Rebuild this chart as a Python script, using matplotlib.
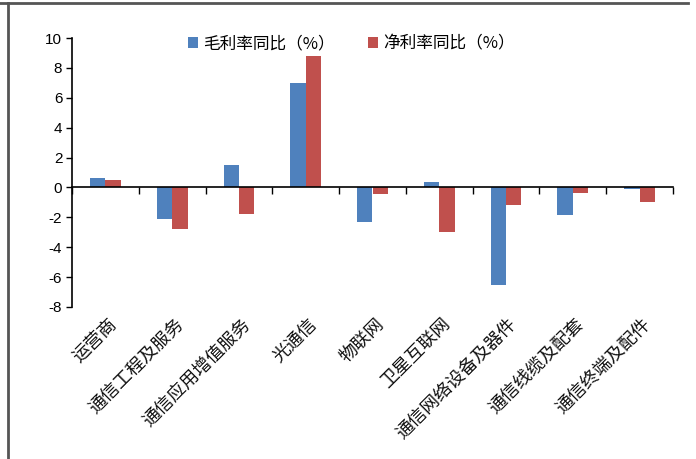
import matplotlib
matplotlib.use("Agg")
import matplotlib.pyplot as plt
import matplotlib.transforms as mtransforms
import numpy as np

plt.rcParams['font.family'] = ['Noto Sans CJK SC', 'DejaVu Sans']

# data
categories = ["运营商", "通信工程及服务", "通信应用增值服务", "光通信", "物联网",
              "卫星互联网", "通信网络设备及器件", "通信线缆及配套", "通信终端及配件"]
gross_margin_yoy = [0.6, -2.1, 1.5, 7.0, -2.3, 0.35, -6.5, -1.85, -0.1]
net_margin_yoy = [0.5, -2.8, -1.8, 8.8, -0.45, -3.0, -1.2, -0.4, -1.0]
series_names = ["毛利率同比（%）", "净利率同比（%）"]
yticks = [-8, -6, -4, -2, 0, 2, 4, 6, 8, 10]

fig = plt.figure(figsize=(6.96, 4.59), dpi=100)
ax = fig.add_axes([72 / 696, 1 - 307 / 459, 601 / 696, 269 / 459])

x = np.arange(len(categories))
w = 0.23
ax.bar(x - w / 2, gross_margin_yoy, w, color="#4F81BD", label=series_names[0])
ax.bar(x + w / 2, net_margin_yoy, w, color="#C0504D", label=series_names[1])

ax.set_xlim(-0.5, len(categories) - 0.5)
ax.set_ylim(-8, 10)
ax.set_yticks(yticks)
ax.set_yticklabels([str(v) for v in yticks], family="Liberation Sans", fontsize=11)
ax.tick_params(axis="y", direction="out", length=4, width=1, pad=3)

# x axis drawn on the zero line, ticks between categories
for s in ["top", "right"]:
    ax.spines[s].set_visible(False)
ax.spines["bottom"].set_position(("data", 0))
ax.spines["left"].set_linewidth(1.2)
ax.spines["bottom"].set_linewidth(1.2)
ax.set_xticks(np.arange(len(categories) + 1) - 0.5)
ax.set_xticklabels([])
ax.tick_params(axis="x", direction="out", length=5, width=1)

# category labels under the plot area
trans = mtransforms.blended_transform_factory(ax.transData, ax.transAxes)
for i, name in enumerate(categories):
    ax.text(i + 0.03, -0.03, name, transform=trans, rotation=45,
            rotation_mode="anchor", ha="right", va="top", fontsize=13,
            color="#111111")

fig.legend(loc="center", bbox_to_anchor=(0.505, 1 - 44 / 459), ncol=2,
           frameon=False, fontsize=12, handlelength=0.6, handleheight=0.6,
           handletextpad=0.3, columnspacing=2.0)

# frame lines of the original screenshot
fig.add_artist(plt.Line2D([0, 688 / 696], [1 - 3 / 459, 1 - 3 / 459],
                          color="#555555", lw=2, transform=fig.transFigure))
fig.add_artist(plt.Line2D([8 / 696, 8 / 696], [0, 1 - 3 / 459],
                          color="#555555", lw=2, transform=fig.transFigure))

fig.savefig("out.png", dpi=100, facecolor="white")
